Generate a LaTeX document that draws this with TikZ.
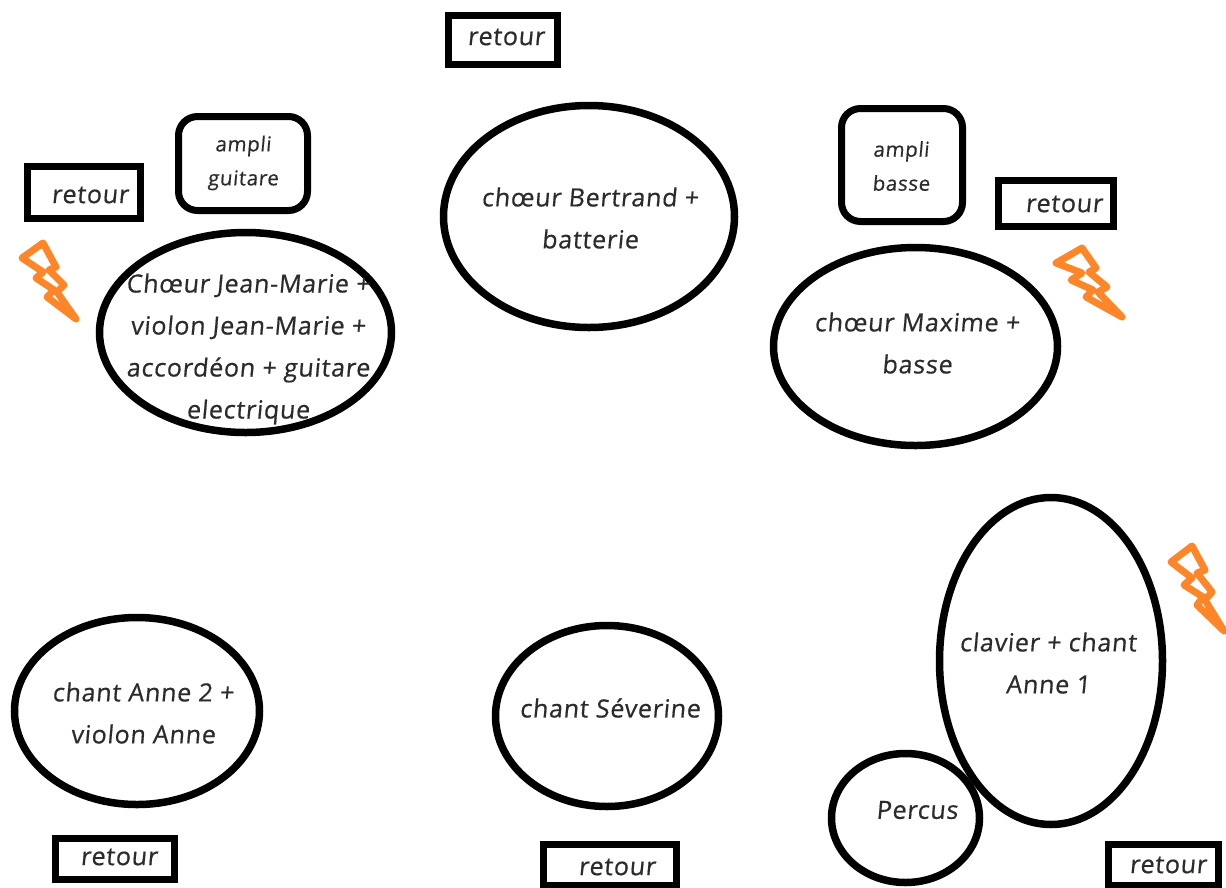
\documentclass[tikz,border=0pt]{standalone}
\usepackage{fontspec}
\setmainfont[FakeSlant=0.09,FakeBold=0.6,LetterSpace=3]{Open Sans}
\usetikzlibrary{shapes.geometric}
\definecolor{ink}{HTML}{2B2B2B}
\definecolor{bolt}{HTML}{FF8529}
\tikzset{
  x=1pt,y=-1pt,
  oval/.style={draw=black,line width=7.5pt,ellipse,inner sep=0pt,outer sep=0pt},
  retourbox/.style={draw=black,line width=7pt,rectangle,inner sep=0pt,outer sep=0pt},
  amplibox/.style={draw=black,line width=7pt,rectangle,rounded corners=19pt,inner sep=0pt,outer sep=0pt},
  big/.style={text=ink,align=center,inner sep=0pt,font=\fontsize{25}{42}\selectfont},
  small/.style={text=ink,align=center,inner sep=0pt,font=\fontsize{20.5}{34}\selectfont},
  boltline/.style={draw=bolt,line width=7pt,line join=round}
}
\begin{document}
\begin{tikzpicture}
\useasboundingbox (0,0) rectangle (1226,887);
\begin{scope}
\clip (0,0) rectangle (1226,887);
% ovals
\node[oval,minimum width=292pt,minimum height=200pt] (jm) at (245.5,332.5) {};
\node[oval,minimum width=291pt,minimum height=222pt] (be) at (589,216.5) {};
\node[oval,minimum width=284pt,minimum height=198pt] (ma) at (915.5,346.5) {};
\node[oval,minimum width=223pt,minimum height=327pt] (cl) at (1051,661) {};
\node[oval,minimum width=148pt,minimum height=129pt] (pe) at (905.5,818) {};
\node[oval,minimum width=245pt,minimum height=187pt] (an) at (137,711) {};
\node[oval,minimum width=223pt,minimum height=181pt] (se) at (607,716) {};
% retour boxes
\node[retourbox,minimum width=109pt,minimum height=49pt] (r1) at (503,40) {};
\node[retourbox,minimum width=113pt,minimum height=52pt] (r2) at (84,192.5) {};
\node[retourbox,minimum width=115pt,minimum height=46pt] (r3) at (1056,203.5) {};
\node[retourbox,minimum width=119pt,minimum height=41pt] (r4) at (115,859) {};
\node[retourbox,minimum width=133pt,minimum height=41pt] (r5) at (610,864.5) {};
\node[retourbox,minimum width=110pt,minimum height=41pt] (r6) at (1163.5,865) {};
% amplis
\node[amplibox,minimum width=129pt,minimum height=94pt] (ag) at (243,163.5) {};
\node[amplibox,minimum width=121pt,minimum height=113pt] (ab) at (902,165) {};
% bolts
\draw[boltline] (22,258)--(43,243)--(56,267)--(49,270)--(64,285)--(57,292)--(76,319)--(47,297)--(54,290)--(36,278)--(43,272)--cycle;
\draw[boltline] (1056,263)--(1082,248)--(1096,268)--(1089,272)--(1107,287)--(1098,292)--(1122,317)--(1086,297)--(1093,290)--(1071,280)--(1082,273)--cycle;
\draw[boltline] (1171,562)--(1192,546)--(1205,570)--(1197,573)--(1212,592)--(1205,600)--(1224,631)--(1197,605)--(1203,597)--(1184,585)--(1192,578)--cycle;
% texts
\node[big] (tr1) at (506,37) {retour};
\node[big] (tr2) at (90,195) {retour};
\node[big] (tr3) at (1064,204) {retour};
\node[big] (tr4) at (119,857) {retour};
\node[big] (tr5) at (617,867) {retour};
\node[big] (tr6) at (1168,865) {retour};
\node[small] (tag) at (243,163) {ampli\\guitare};
\node[small] (tab) at (901,166) {ampli\\basse};
\node[big] (tjm) at (248,349) {Chœur Jean-Marie +\\violon Jean-Marie +\\accordéon + guitare\\electrique};
\node[big] (tbe) at (590,218) {chœur Bertrand +\\batterie};
\node[big] (tma) at (917,343) {chœur Maxime +\\basse};
\node[big] (tcl) at (1048,663) {clavier + chant\\Anne 1};
\node[big] (tpe) at (917,810) {Percus};
\node[big] (tan) at (143,713) {chant Anne 2 +\\violon Anne};
\node[big] (tse) at (610,708) {chant Séverine};
\end{scope}
\end{tikzpicture}
\end{document}
